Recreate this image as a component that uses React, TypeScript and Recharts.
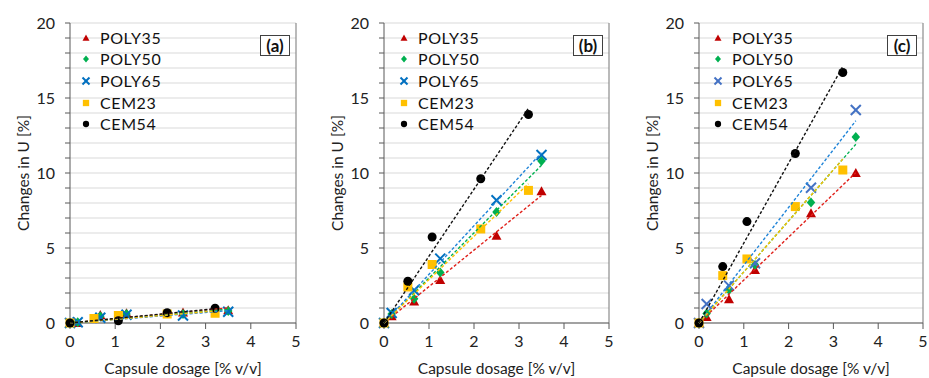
import React from "react";
import { ScatterChart, Scatter, XAxis, YAxis, CartesianGrid, ReferenceLine } from "recharts";

// dosage (x) values
const polyDose = [0, 0.17, 0.67, 1.25, 2.5, 3.5];
const cemDose = [0, 0.53, 1.07, 2.15, 3.21];

// panel (a)
const aPoly35 = [0, 0, 0.53, 0.65, 0.7, 0.85];
const aPoly50 = [0, 0.05, 0.45, 0.6, 0.6, 0.8];
const aPoly65 = [0, 0.05, 0.35, 0.55, 0.5, 0.75];
const aCem23 = [0, 0.3, 0.5, 0.6, 0.65];
const aCem54 = [0, null, 0.15, 0.69, 0.98];

// panel (b)
const bPoly35 = [0, 0.45, 1.44, 2.87, 5.82, 8.78];
const bPoly50 = [0, 0.6, 1.62, 3.36, 7.4, 10.8];
const bPoly65 = [0, 0.67, 2.18, 4.29, 8.18, 11.2];
const bCem23 = [0, 2.4, 3.9, 6.27, 8.84];
const bCem54 = [0, 2.78, 5.73, 9.62, 13.9];

// panel (c)
const cPoly35 = [0, 0.4, 1.58, 3.53, 7.31, 10.0];
const cPoly50 = [0, 0.64, 2.2, 3.87, 8.04, 12.4];
const cPoly65 = [0, 1.27, 2.49, 3.98, 9.02, 14.2];
const cCem23 = [0, 3.16, 4.27, 7.76, 10.2];
const cCem54 = [0, 3.76, 6.76, 11.3, 16.7];

const xTicks = [0, 1, 2, 3, 4, 5];
const yTicks = Array.from({ length: 21 }, (_, i) => i);

const FONT = "Lato, 'Open Sans', sans-serif";

type Marker = "tri" | "dia" | "x" | "sq" | "dot";

function MarkerShape({ kind, cx, cy, color, s }: { kind: Marker; cx: number; cy: number; color: string; s: number }) {
  const h = s / 2;
  if (kind === "tri")
    return <polygon points={`${cx},${cy - h} ${cx + h},${cy + h * 0.8} ${cx - h},${cy + h * 0.8}`} fill={color} />;
  if (kind === "dia")
    return <polygon points={`${cx},${cy - h} ${cx + h * 0.85},${cy} ${cx},${cy + h} ${cx - h * 0.85},${cy}`} fill={color} />;
  if (kind === "x")
    return (
      <g stroke={color} strokeWidth={2}>
        <line x1={cx - h} y1={cy - h} x2={cx + h} y2={cy + h} />
        <line x1={cx - h} y1={cy + h} x2={cx + h} y2={cy - h} />
      </g>
    );
  if (kind === "sq") return <rect x={cx - h * 0.9} y={cy - h * 0.9} width={h * 1.8} height={h * 1.8} fill={color} />;
  return <circle cx={cx} cy={cy} r={h * 0.9} fill={color} />;
}

type Series = { name: string; xs: number[]; ys: (number | null)[]; color: string; lineColor: string; marker: Marker };

function makeSeries(p35: number[], p50: number[], p65: number[], c23: number[], c54: (number | null)[], xBlue: string): Series[] {
  return [
    { name: "POLY35", xs: polyDose, ys: p35, color: "#C00000", lineColor: "#E0201A", marker: "tri" },
    { name: "POLY50", xs: polyDose, ys: p50, color: "#00B050", lineColor: "#00B050", marker: "dia" },
    { name: "POLY65", xs: polyDose, ys: p65, color: xBlue, lineColor: "#1F84D8", marker: "x" },
    { name: "CEM23", xs: cemDose, ys: c23, color: "#FFC000", lineColor: "#FFC000", marker: "sq" },
    { name: "CEM54", xs: cemDose, ys: c54, color: "#000000", lineColor: "#111111", marker: "dot" },
  ];
}

function points(s: Series) {
  return s.xs.map((x, i) => ({ x, y: s.ys[i] })).filter((p) => p.y !== null) as { x: number; y: number }[];
}

// linear trendline through the origin (least squares), from 0 to the last dosage
function trend(s: Series) {
  const pts = points(s);
  const sxy = pts.reduce((a, p) => a + p.x * p.y, 0);
  const sxx = pts.reduce((a, p) => a + p.x * p.x, 0);
  const k = sxy / sxx;
  const xmax = Math.max(...pts.map((p) => p.x));
  return [
    { x: 0, y: 0 },
    { x: xmax, y: k * xmax },
  ];
}

const panels = [
  { tag: "(a)", left: 0, width: 310, ml: 0, mr: 14, lg: 8, series: makeSeries(aPoly35, aPoly50, aPoly65, aCem23, aCem54, "#0070C0") },
  { tag: "(b)", left: 310, width: 310, ml: 4, mr: 11, lg: 12, series: makeSeries(bPoly35, bPoly50, bPoly65, bCem23, bCem54, "#0070C0") },
  { tag: "(c)", left: 620, width: 309, ml: 9, mr: 6, lg: 11, series: makeSeries(cPoly35, cPoly50, cPoly65, cCem23, cCem54, "#4472C4") },
];

const H = 378;
const TOP = 23;
const YW = 70;
const XH = 55;

function Panel({ tag, left, width, ml, mr, lg, series }: (typeof panels)[number]) {
  const plotLeft = ml + YW;
  const plotRight = width - mr;
  return (
    <div style={{ position: "absolute", left, top: 0, width, height: H, fontFamily: FONT }}>
      <ScatterChart width={width} height={H} margin={{ top: TOP, right: mr, bottom: 0, left: ml }}>
        <CartesianGrid vertical={false} stroke="#d9d9d9" strokeWidth={1} />
        <XAxis
          type="number"
          dataKey="x"
          domain={[0, 5]}
          ticks={xTicks}
          interval={0}
          height={XH}
          tickSize={6}
          tickMargin={7}
          stroke="#595959"
          tick={{ fontSize: 16, fill: "#222", fontFamily: FONT }}
          label={{ value: "Capsule dosage [% v/v]", position: "insideBottom", offset: 4, fontSize: 15.5, fill: "#222", fontFamily: FONT }}
        />
        <YAxis
          type="number"
          dataKey="y"
          domain={[0, 20]}
          ticks={yTicks}
          interval={0}
          width={YW}
          tickSize={5}
          tickMargin={10}
          stroke="#595959"
          tickFormatter={(v: number) => (v % 5 === 0 ? String(v) : "")}
          tick={{ fontSize: 16, fill: "#222", fontFamily: FONT }}
          label={{ value: "Changes in U [%]", angle: -90, position: "center", dx: -12, fontSize: 15.5, fill: "#222", fontFamily: FONT }}
        />
        <ReferenceLine x={5} stroke="#8c8c8c" strokeWidth={1.2} />
        {series.map((s) => (
          <Scatter
            key={s.name}
            name={s.name}
            data={points(s)}
            isAnimationActive={false}
            shape={(p: any) => <MarkerShape kind={s.marker} cx={p.cx} cy={p.cy} color={s.color} s={10} />}
          />
        ))}
        {series.map((s) => (
          <Scatter
            key={s.name + "-trend"}
            data={trend(s)}
            isAnimationActive={false}
            legendType="none"
            line={{ stroke: s.lineColor, strokeWidth: 1.4, strokeDasharray: "3 2" }}
            shape={() => <g />}
          />
        ))}
      </ScatterChart>
      {/* legend */}
      <div style={{ position: "absolute", left: plotLeft + lg, top: 27 }}>
        {series.map((s) => (
          <div key={s.name} style={{ display: "flex", alignItems: "center", height: 21.6 }}>
            <svg width={16} height={16} style={{ marginRight: 6 }}>
              <MarkerShape kind={s.marker} cx={8} cy={8} color={s.color} s={7} />
            </svg>
            <span style={{ fontSize: 16, letterSpacing: 0.6, color: "#111", lineHeight: "16px" }}>{s.name}</span>
          </div>
        ))}
      </div>
      {/* panel tag */}
      <div
        style={{
          position: "absolute",
          left: plotRight - 36,
          top: 35,
          width: 30,
          height: 21,
          border: "1px solid #404040",
          background: "#fff",
          boxSizing: "border-box",
          fontWeight: 700,
          fontSize: 17,
          lineHeight: "19px",
          textAlign: "center",
          color: "#111",
        }}
      >
        {tag}
      </div>
    </div>
  );
}

export default function App() {
  return (
    <div style={{ position: "absolute", left: 0, top: 0, width: 929, height: H, background: "#fff", overflow: "hidden" }}>
      {panels.map((p) => (
        <Panel key={p.tag} {...p} />
      ))}
    </div>
  );
}
